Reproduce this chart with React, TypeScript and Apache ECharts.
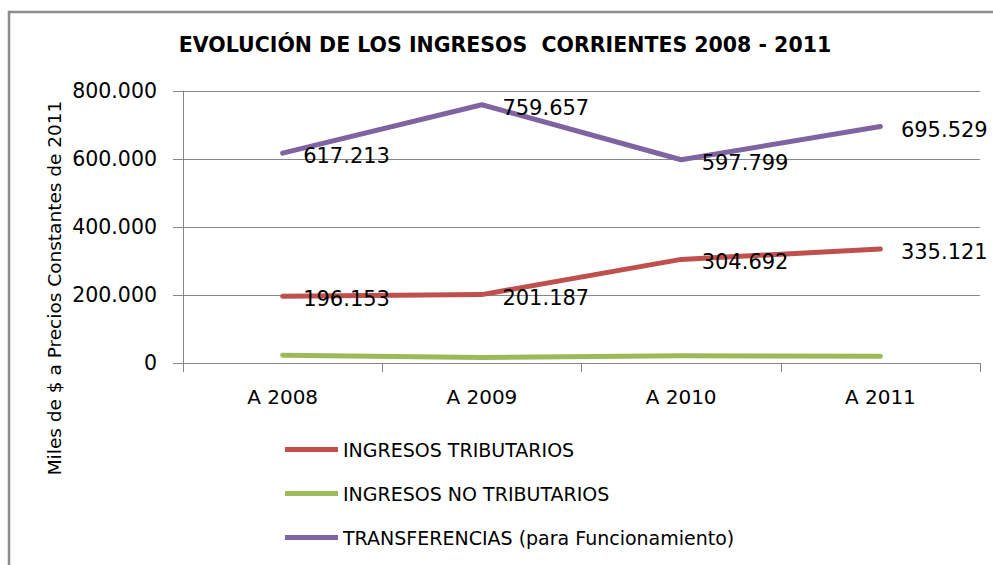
import React, { useEffect, useRef } from "react";
import * as echarts from "echarts";

const categories = ["A 2008", "A 2009", "A 2010", "A 2011"];
const tributarios = [196153, 201187, 304692, 335121];
const noTributarios = [23000, 16000, 21000, 20000];
const transferencias = [617213, 759657, 597799, 695529];
const seriesNames = [
  "INGRESOS TRIBUTARIOS",
  "INGRESOS NO TRIBUTARIOS",
  "TRANSFERENCIAS (para Funcionamiento)",
];
const titleText = "EVOLUCIÓN DE LOS INGRESOS  CORRIENTES 2008 - 2011";
const yAxisTitle = "Miles de $ a Precios Constantes de 2011";

const fmt = (v: number) => {
  const s = Math.round(v).toString();
  return s.replace(/\B(?=(\d{3})+(?!\d))/g, ".");
};

const FONT = "DejaVu Sans";
const GRAY = "#868686";

export default function App() {
  const ref = useRef<HTMLDivElement>(null);
  useEffect(() => {
    if (!ref.current) return;
    const chart = echarts.init(ref.current, undefined, { renderer: "svg" });
    const labelCfg = {
      show: true,
      position: "right" as const,
      distance: 20,
      offset: [0, 3],
      fontFamily: FONT,
      fontSize: 21,
      color: "#000",
      formatter: (p: any) => fmt(p.value),
    };
    const mk = (name: string, data: number[], color: string, showLabel: boolean) => ({
      name,
      type: "line",
      data,
      symbol: "circle",
      symbolSize: 1,
      itemStyle: { color },
      lineStyle: { color, width: 5, cap: "round", join: "round" },
      label: showLabel ? labelCfg : { show: false },
      z: 3,
    });
    chart.setOption({
      animation: false,
      backgroundColor: "#fff",
      title: {
        text: titleText,
        left: 505,
        top: 34,
        textAlign: "center",
        padding: 0,
        textStyle: { fontFamily: FONT, fontWeight: "bold", fontSize: 20.5, color: "#000" },
      },
      grid: { left: 183, right: 13, top: 91, bottom: 202, containLabel: false },
      legend: {
        orient: "vertical",
        left: 285,
        top: 440,
        itemWidth: 53,
        itemHeight: 5,
        itemGap: 25,
        icon: "rect",
        padding: 0,
        data: seriesNames,
        textStyle: { fontFamily: FONT, fontSize: 19, color: "#000", lineHeight: 19 },
      },
      xAxis: {
        type: "category",
        data: categories,
        boundaryGap: true,
        axisLine: { show: true, lineStyle: { color: GRAY, width: 1 } },
        axisTick: { show: true, length: 9, interval: 0, lineStyle: { color: GRAY } },
        axisLabel: { margin: 24, fontFamily: FONT, fontSize: 20, color: "#000" },
      },
      yAxis: {
        type: "value",
        min: 0,
        max: 800000,
        interval: 200000,
        axisLine: { show: true, lineStyle: { color: GRAY, width: 1 } },
        axisTick: { show: true, length: 10, lineStyle: { color: GRAY } },
        splitLine: { show: true, lineStyle: { color: GRAY, width: 1 } },
        axisLabel: {
          margin: 26,
          fontFamily: FONT,
          fontSize: 20.5,
          color: "#000",
          formatter: (v: number) => fmt(v),
        },
      },
      graphic: [
        {
          type: "rect",
          shape: { x: 9, y: 12, width: 1100, height: 700 },
          style: { fill: "none", stroke: "#8c8c8c", lineWidth: 2.5 },
          silent: true,
        },
        {
          type: "text",
          x: 54.5,
          y: 288,
          rotation: Math.PI / 2,
          style: {
            text: yAxisTitle,
            fontFamily: FONT,
            fontSize: 18.5,
            fill: "#000",
            align: "center",
            verticalAlign: "middle",
          },
        },
      ],
      series: [
        mk(seriesNames[0], tributarios, "#C0504D", true),
        mk(seriesNames[1], noTributarios, "#9BBB59", false),
        mk(seriesNames[2], transferencias, "#8064A2", true),
      ],
    });
    return () => chart.dispose();
  }, []);
  return (
    <div
      ref={ref}
      style={{ position: "fixed", left: 0, top: 0, width: 993, height: 565 }}
    />
  );
}
